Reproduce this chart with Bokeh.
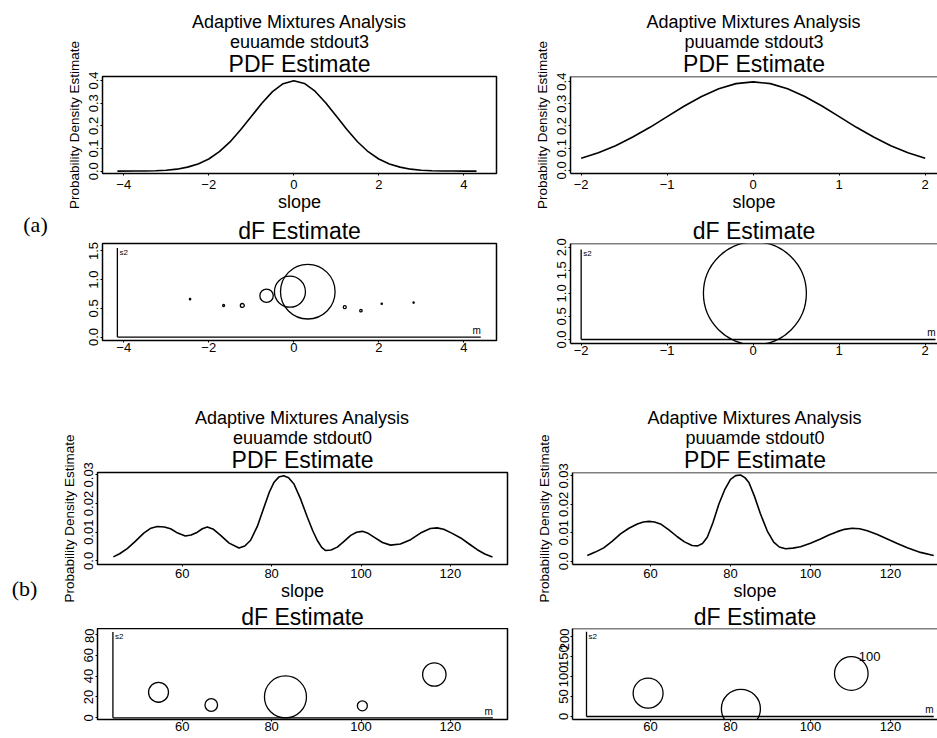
from bokeh.plotting import figure
from bokeh.layouts import column, row
from bokeh.models import Range1d, FixedTicker, Title, Span
from bokeh.core.properties import value
from bokeh.embed import file_html
from bokeh.resources import INLINE

SANS = "Liberation Sans"
SERIF = "Liberation Serif"
MINUS = "\u2212"

# ---------------- (a) left: euuamde stdout3 ----------------
A1_NAME = "euuamde stdout3"
A1_PDF_X = [-4.15, -3.75, -3.5, -3.25, -3.0, -2.75, -2.5, -2.25, -2.0, -1.75, -1.5, -1.25,
            -1.0, -0.75, -0.5, -0.25, 0.0, 0.25, 0.5, 0.75, 1.0, 1.25, 1.5, 1.75, 2.0,
            2.25, 2.5, 2.75, 3.0, 3.25, 3.5, 3.75, 4.0, 4.3]
A1_PDF_Y = [0.0005, 0.001, 0.001, 0.002, 0.004, 0.009, 0.018, 0.032, 0.054, 0.086, 0.129, 0.183,
            0.241, 0.300, 0.351, 0.386, 0.399, 0.387, 0.353, 0.302, 0.243, 0.184, 0.130, 0.086,
            0.054, 0.032, 0.018, 0.009, 0.004, 0.002, 0.001, 0.001, 0.0005, 0.0003]
A1_DF_MEAN = [0.33, -0.09, -0.64, -1.21, -1.65, -2.44, 1.20, 1.58, 2.07, 2.82]
A1_DF_VAR = [0.79, 0.79, 0.72, 0.55, 0.55, 0.66, 0.52, 0.46, 0.58, 0.60]
A1_DF_WEIGHT = [0.525, 0.298, 0.129, 0.038, 0.019, 0.013, 0.029, 0.023, 0.013, 0.012]
A1_DF_MU_AXIS = [-4.15, 4.4]
A1_DF_S2_TOP = 1.55
A1_X_TICKS = [-4, -2, 0, 2, 4]
A1_X_LABELS = [MINUS + "4", MINUS + "2", "0", "2", "4"]
A1_PDF_Y_TICKS = [0, 0.1, 0.2, 0.3, 0.4]
A1_PDF_Y_LABELS = ["0.0", "0.1", "0.2", "0.3", "0.4"]
A1_DF_Y_TICKS = [0, 0.5, 1.0, 1.5]
A1_DF_Y_LABELS = ["0.0", "0.5", "1.0", "1.5"]

# ---------------- (a) right: puuamde stdout3 ----------------
A2_NAME = "puuamde stdout3"
A2_PDF_X = [-2.0, -1.8, -1.6, -1.4, -1.2, -1.0, -0.8, -0.6, -0.4, -0.2, 0.0,
            0.2, 0.4, 0.6, 0.8, 1.0, 1.2, 1.4, 1.6, 1.8, 2.0]
A2_PDF_Y = [0.054, 0.079, 0.111, 0.150, 0.194, 0.242, 0.290, 0.333, 0.368, 0.391, 0.399,
            0.391, 0.368, 0.333, 0.290, 0.242, 0.194, 0.150, 0.111, 0.079, 0.054]
A2_DF_MEAN = [0.02]
A2_DF_VAR = [1.0]
A2_DF_WEIGHT = [0.99]
A2_DF_MU_AXIS = [-2.0, 2.12]
A2_DF_S2_TOP = 1.95
A2_X_TICKS = [-2, -1, 0, 1, 2]
A2_X_LABELS = [MINUS + "2", MINUS + "1", "0", "1", "2"]
A2_PDF_Y_TICKS = [0, 0.1, 0.2, 0.3, 0.4]
A2_PDF_Y_LABELS = ["0.0", "0.1", "0.2", "0.3", "0.4"]
A2_DF_Y_TICKS = [0, 0.5, 1.0, 1.5, 2.0]
A2_DF_Y_LABELS = ["0.0", "0.5", "1.0", "1.5", "2.0"]

# ---------------- (b) left: euuamde stdout0 ----------------
B1_NAME = "euuamde stdout0"
B1_PDF_X = [44.6, 46.0, 47.7, 49.5, 51.4, 53.0, 54.4, 56.0, 57.4, 59.0, 60.7, 62.0, 63.4, 64.5,
            65.6, 67.0, 68.6, 70.5, 72.7, 74.0, 75.3, 76.8, 78.3, 79.5, 80.5, 81.6, 82.7, 83.8,
            85.0, 86.5, 88.0, 89.2, 90.2, 91.2, 92.1, 93.3, 94.7, 96.2, 97.7, 99.0, 100.3, 101.6,
            102.9, 104.8, 106.6, 108.8, 111.1, 113.3, 115.5, 117.0, 118.5, 120.4, 122.3, 124.2,
            126.0, 127.7, 129.4]
B1_PDF_Y = [0.0014, 0.0025, 0.0043, 0.0068, 0.0097, 0.0114, 0.0120, 0.0118, 0.0112, 0.0097,
            0.0087, 0.0090, 0.0100, 0.0112, 0.0118, 0.0110, 0.0089, 0.0062, 0.0045, 0.0052,
            0.0072, 0.0120, 0.0187, 0.0240, 0.0273, 0.0292, 0.0297, 0.0290, 0.0268, 0.0215,
            0.0152, 0.0105, 0.0072, 0.0047, 0.0036, 0.0038, 0.0048, 0.0068, 0.0089, 0.0100,
            0.0103, 0.0096, 0.0083, 0.0064, 0.0055, 0.0059, 0.0074, 0.0097, 0.0113, 0.0115,
            0.0110, 0.0096, 0.0080, 0.0059, 0.0039, 0.0024, 0.0014]
B1_DF_MEAN = [54.7, 66.5, 83.1, 100.3, 116.4]
B1_DF_VAR = [24.5, 12.3, 20.0, 11.5, 41.5]
B1_DF_WEIGHT = [0.192, 0.121, 0.404, 0.096, 0.225]
B1_DF_MU_AXIS = [44.5, 129.5]
B1_DF_S2_TOP = 82.3
B1_X_TICKS = [60, 80, 100, 120]
B1_X_LABELS = ["60", "80", "100", "120"]
B1_PDF_Y_TICKS = [0, 0.01, 0.02, 0.03]
B1_PDF_Y_LABELS = ["0.0", "0.01", "0.02", "0.03"]
B1_DF_Y_TICKS = [0, 20, 40, 60, 80]
B1_DF_Y_LABELS = ["0", "20", "40", "60", "80"]

# ---------------- (b) right: puuamde stdout0 ----------------
B2_NAME = "puuamde stdout0"
B2_PDF_X = [44.2, 46.2, 48.3, 50.4, 52.5, 54.6, 56.7, 58.2, 59.6, 61.0, 62.5, 64.6, 66.7, 68.5,
            70.4, 71.8, 73.0, 74.2, 75.6, 77.1, 78.6, 80.0, 81.3, 82.5, 83.6, 84.6, 86.0, 87.5,
            89.2, 90.8, 92.2, 93.75, 95.6, 97.5, 100.0, 102.5, 104.6, 106.7, 108.5, 110.4, 112.3,
            114.2, 116.7, 119.2, 121.7, 124.2, 127.5, 130.8]
B2_PDF_Y = [0.0020, 0.0032, 0.0047, 0.0070, 0.0096, 0.0116, 0.0131, 0.0138, 0.0140, 0.0138,
            0.0131, 0.0110, 0.0086, 0.0068, 0.0055, 0.0054, 0.0062, 0.0084, 0.0135, 0.0201,
            0.0253, 0.0288, 0.0301, 0.0303, 0.0294, 0.0277, 0.0228, 0.0166, 0.0106, 0.0067,
            0.0050, 0.0044, 0.0046, 0.0051, 0.0063, 0.0078, 0.0092, 0.0104, 0.0112, 0.0116,
            0.0114, 0.0107, 0.0094, 0.0078, 0.0062, 0.0047, 0.0031, 0.0020]
B2_DF_MEAN = [59.4, 82.6, 110.2]
B2_DF_VAR = [58.0, 19.0, 107.0]
B2_DF_WEIGHT = [0.288, 0.375, 0.323]
B2_DF_MU_AXIS = [44.0, 130.8]
B2_DF_S2_TOP = 211.0
B2_DF_NOTE = ["100"]
B2_DF_NOTE_X = [114.8]
B2_DF_NOTE_Y = [150.0]
B2_X_TICKS = [60, 80, 100, 120]
B2_X_LABELS = ["60", "80", "100", "120"]
B2_PDF_Y_TICKS = [0, 0.01, 0.02, 0.03]
B2_PDF_Y_LABELS = ["0.0", "0.01", "0.02", "0.03"]
B2_DF_Y_TICKS = [0, 50, 100, 150, 200]
B2_DF_Y_LABELS = ["0", "50", "100", "150", "200"]

MAIN_TITLE = "Adaptive Mixtures Analysis"
PDF_TITLE = "PDF Estimate"
DF_TITLE = "dF Estimate"
X_LABEL = "slope"
Y_LABEL = "Probability Density Estimate"
PANEL_LABELS = ["(a)", "(b)"]

RADIUS_PX = 52.0   # circle radius in pixels per unit of mixing weight


def base_fig(xr, yr, fw, fh, bl, br, bt, bb, xticks, xlabels, yticks, ylabels, boxed, xstand):
    p = figure(frame_width=fw, frame_height=fh, min_border_left=bl, min_border_right=br,
               min_border_top=bt, min_border_bottom=bb,
               x_range=Range1d(*xr), y_range=Range1d(*yr),
               output_backend="svg", toolbar_location=None, tools="", title=None)
    p.grid.visible = False
    p.background_fill_color = "white"
    p.border_fill_color = "white"
    for ax, ticks, labels in ((p.xaxis[0], xticks, xlabels), (p.yaxis[0], yticks, ylabels)):
        ax.ticker = FixedTicker(ticks=ticks)
        ax.major_label_overrides = {t: l for t, l in zip(ticks, labels)}
        ax.major_label_text_font = SANS
        ax.major_label_text_font_size = "13px"
        ax.major_label_text_color = "black"
        ax.major_label_standoff = 2
        ax.major_tick_in = 0
        ax.major_tick_out = 2
        ax.major_tick_line_color = "black"
        ax.minor_tick_line_color = None
    p.xaxis[0].major_label_standoff = xstand
    p.yaxis[0].major_label_orientation = "parallel"
    if boxed:
        p.outline_line_color = "black"
        p.outline_line_width = 1.5
        p.outline_line_alpha = 1.0
        for ax in (p.xaxis[0], p.yaxis[0]):
            ax.axis_line_color = None
    else:
        p.outline_line_color = None
        for ax in (p.xaxis[0], p.yaxis[0]):
            ax.axis_line_color = "black"
            ax.axis_line_width = 1.5
        p.add_layout(Span(location=yr[1], dimension="width", line_color="black", line_width=1.5))
    return p


def make_title(text, size, so):
    return Title(text=text, align="center", text_font=SANS, text_font_size=size,
                 text_font_style="normal", text_color="black", standoff=so)


def add_titles(p, lines):
    # lines ordered from nearest the frame outward
    for text, size, so in lines:
        p.add_layout(make_title(text, size, so), "above")


def pdf_fig(name, xs, ys, xr, yr, fw, fh, bl, br, bt, bb, xt, xl, yt, yl, boxed, xstand,
            next_title=None):
    p = base_fig(xr, yr, fw, fh, bl, br, bt, bb, xt, xl, yt, yl, boxed, xstand)
    add_titles(p, [(PDF_TITLE, "23px", 0), (name, "18px", -6), (MAIN_TITLE, "18px", 1)])
    p.xaxis[0].axis_label = X_LABEL
    p.xaxis[0].axis_label_text_font = SANS
    p.xaxis[0].axis_label_text_font_size = "18px"
    p.xaxis[0].axis_label_text_font_style = "normal"
    p.xaxis[0].axis_label_text_color = "black"
    p.xaxis[0].axis_label_standoff = 0
    p.yaxis[0].axis_label = Y_LABEL
    p.yaxis[0].axis_label_text_font = SANS
    p.yaxis[0].axis_label_text_font_size = "13.5px"
    p.yaxis[0].axis_label_text_font_style = "normal"
    p.yaxis[0].axis_label_text_color = "black"
    p.yaxis[0].axis_label_standoff = 5
    p.line(xs, ys, line_color="black", line_width=1.6)
    if next_title is not None:
        # title of the dF panel below, drawn in this canvas so it can sit close to "slope"
        p.add_layout(make_title(next_title, "23px", -4), "below")
    return p


def df_fig(mean, var, weight, mu_axis, s2_top, xr, yr, fw, fh, bl, br, bt, bb,
           xt, xl, yt, yl, boxed, title_so):
    p = base_fig(xr, yr, fw, fh, bl, br, bt, bb, xt, xl, yt, yl, boxed, 0)
    if title_so is not None:
        add_titles(p, [(DF_TITLE, "23px", title_so)])
    # mean / variance reference axes drawn inside the panel
    p.line([mu_axis[0], mu_axis[0]], [0, s2_top], line_color="black", line_width=1.3)
    p.line(mu_axis, [0, 0], line_color="black", line_width=1.3)
    p.text(x=[mu_axis[0]], y=[s2_top], text=["s2"], text_font=value(SANS),
           text_font_size="8px", text_align="left", text_baseline="top", x_offset=2,
           text_color="black")
    p.text(x=[mu_axis[1]], y=[0], text=["m"], text_font=value(SANS),
           text_font_size="10px", text_align="right", text_baseline="bottom", y_offset=-1,
           text_color="black")
    p.scatter(x=mean, y=var, size=[2 * RADIUS_PX * w for w in weight], marker="circle",
              fill_color=None, line_color="black", line_width=1.3)
    return p


# ranges (data units) of each panel frame
A1_XR = (-4.50, 4.77)
A2_XR = (-2.124, 2.143)
B1_XR = (41.05, 132.77)
B2_XR = (40.5, 131.75)

a1_pdf = pdf_fig(A1_NAME, A1_PDF_X, A1_PDF_Y, A1_XR, (-0.0101, 0.4177),
                 394, 97, 52, 34, 76, 41, A1_X_TICKS, A1_X_LABELS,
                 A1_PDF_Y_TICKS, A1_PDF_Y_LABELS, True, 4)
a2_pdf = pdf_fig(A2_NAME, A2_PDF_X, A2_PDF_Y, A2_XR, (-0.0143, 0.4231),
                 367, 97, 40, 0, 76, 41, A2_X_TICKS, A2_X_LABELS,
                 A2_PDF_Y_TICKS, A2_PDF_Y_LABELS, False, 4)
a1_df = df_fig(A1_DF_MEAN, A1_DF_VAR, A1_DF_WEIGHT, A1_DF_MU_AXIS, A1_DF_S2_TOP,
               A1_XR, (-0.06, 1.63), 394, 97, 52, 34, 28, 21,
               A1_X_TICKS, A1_X_LABELS, A1_DF_Y_TICKS, A1_DF_Y_LABELS, True, 0)
a2_df = df_fig(A2_DF_MEAN, A2_DF_VAR, A2_DF_WEIGHT, A2_DF_MU_AXIS, A2_DF_S2_TOP,
               A2_XR, (-0.087, 2.08), 367, 100, 40, 0, 29, 17,
               A2_X_TICKS, A2_X_LABELS, A2_DF_Y_TICKS, A2_DF_Y_LABELS, False, 0)
b1_pdf = pdf_fig(B1_NAME, B1_PDF_X, B1_PDF_Y, B1_XR, (-0.00125, 0.0308),
                 410, 92, 47, 23, 112, 64, B1_X_TICKS, B1_X_LABELS,
                 B1_PDF_Y_TICKS, B1_PDF_Y_LABELS, True, 2, DF_TITLE)
b2_pdf = pdf_fig(B2_NAME, B2_PDF_X, B2_PDF_Y, B2_XR, (-0.00116, 0.0312),
                 365, 92, 42, 0, 112, 64, B2_X_TICKS, B2_X_LABELS,
                 B2_PDF_Y_TICKS, B2_PDF_Y_LABELS, False, 2, DF_TITLE)
b1_df = df_fig(B1_DF_MEAN, B1_DF_VAR, B1_DF_WEIGHT, B1_DF_MU_AXIS, B1_DF_S2_TOP,
               B1_XR, (-1.6, 85.6), 410, 91, 47, 23, 0, 17,
               B1_X_TICKS, B1_X_LABELS, B1_DF_Y_TICKS, B1_DF_Y_LABELS, True, None)
b2_df = df_fig(B2_DF_MEAN, B2_DF_VAR, B2_DF_WEIGHT, B2_DF_MU_AXIS, B2_DF_S2_TOP,
               B2_XR, (-7.5, 219.0), 365, 91, 42, 0, 0, 17,
               B2_X_TICKS, B2_X_LABELS, B2_DF_Y_TICKS, B2_DF_Y_LABELS, False, None)
b2_df.text(x=B2_DF_NOTE_X, y=B2_DF_NOTE_Y, text=B2_DF_NOTE, text_font=value(SANS),
           text_font_size="13px", text_align="center", text_baseline="middle",
           text_color="black")

# narrow strip holding the panel letters (a) and (b); y runs downward in pixels
TOTAL_H = 736
letters = figure(frame_width=50, frame_height=TOTAL_H,
                 min_border_left=0, min_border_right=0, min_border_top=0, min_border_bottom=0,
                 x_range=Range1d(0, 50), y_range=Range1d(TOTAL_H, 0),
                 x_axis_location=None, y_axis_location=None,
                 output_backend="svg", toolbar_location=None, tools="", title=None)
letters.grid.visible = False
letters.outline_line_color = None
letters.background_fill_color = "white"
letters.border_fill_color = "white"
letters.text(x=[35, 24], y=[224, 588], text=PANEL_LABELS, text_font=value(SERIF),
             text_font_size="22px", text_align="center", text_baseline="alphabetic",
             text_color="black")

grid = column(row(a1_pdf, a2_pdf), row(a1_df, a2_df), row(b1_pdf, b2_pdf), row(b1_df, b2_df))
layout = row(letters, grid)

with open("out.html", "w") as f:
    f.write(file_html(layout, INLINE))
